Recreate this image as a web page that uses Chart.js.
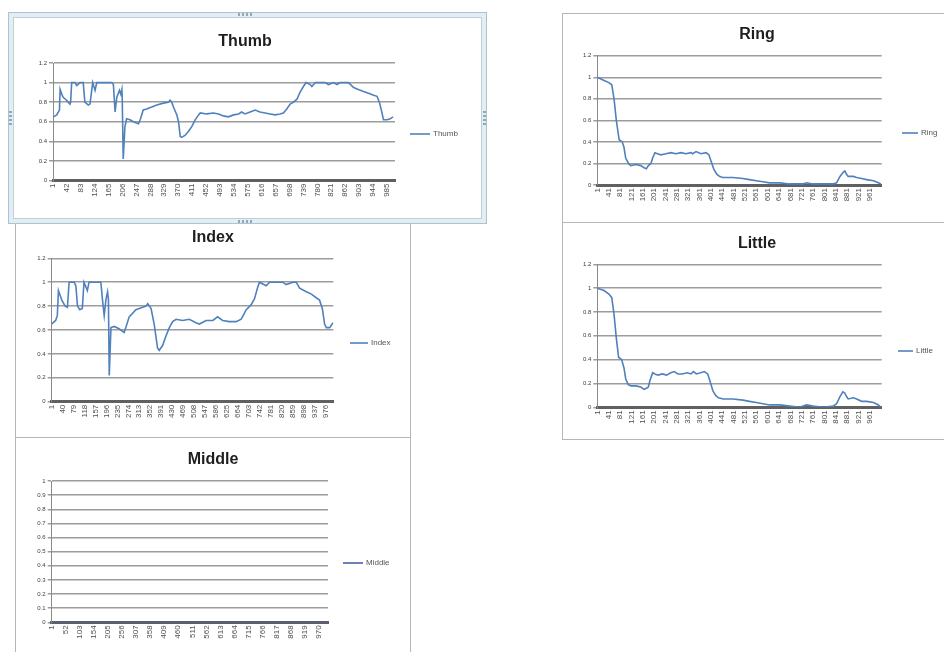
<!DOCTYPE html>
<html>
<head>
<meta charset="utf-8">
<script src="https://cdn.jsdelivr.net/npm/chart.js@4.4.1/dist/chart.umd.min.js"></script>
<style>
  html, body { margin: 0; padding: 0; background: #ffffff; }
  body { width: 944px; height: 652px; position: relative; overflow: hidden; }
  .frame { position: absolute; box-sizing: border-box; background: #ffffff; border: 1px solid #b6b6b6; }
  .sel { border: 1px solid #a9c4d2; box-shadow: inset 0 0 0 4px #e3edf2, inset 0 0 0 5px #bcd0da; }
  canvas { position: absolute; }
  .hh { position: absolute; width: 14px; height: 3px;
        background: repeating-linear-gradient(90deg, #8fa9b6 0 2px, transparent 2px 4px); }
  .hv { position: absolute; width: 3px; height: 14px;
        background: repeating-linear-gradient(180deg, #8fa9b6 0 2px, transparent 2px 4px); }
</style>
</head>
<body>
<div class="frame" style="left:15px;top:222px;width:396px;height:216px"></div>
<canvas id="cIndex"></canvas>
<div class="frame" style="left:15px;top:437px;width:396px;height:224px"></div>
<canvas id="cMiddle"></canvas>
<div class="frame" style="left:562px;top:13px;width:392px;height:210px"></div>
<canvas id="cRing"></canvas>
<div class="frame" style="left:562px;top:222px;width:392px;height:218px"></div>
<canvas id="cLittle"></canvas>
<div class="frame sel" style="left:8px;top:12px;width:479px;height:212px"></div>
<div class="hh" style="left:238px;top:13px"></div>
<div class="hh" style="left:238px;top:220px"></div>
<div class="hv" style="left:9px;top:111px"></div>
<div class="hv" style="left:483px;top:111px"></div>
<canvas id="cThumb"></canvas>

<script>
// ---- Thumb ----
const thumbX = [2,12,17,20,22,27,31,41,51,53,56,66,71,81,90,95,105,110,118,125,130,174,179,184,189,197,201,204,205,208,213,218,228,238,253,258,267,277,292,307,326,341,346,351,356,366,371,376,380,390,400,410,420,430,435,454,474,489,503,518,533,548,557,567,582,597,611,626,641,656,670,680,690,700,710,720,729,739,747,759,764,774,788,803,813,828,838,847,872,887,901,916,931,946,956,963,970,975,985,995,1003];
const thumbY = [0.65,0.67,0.70,0.72,0.93,0.88,0.85,0.82,0.78,0.80,1.00,1.00,0.97,1.00,1.00,0.80,0.77,0.78,1.00,0.92,1.00,1.00,0.98,0.70,0.85,0.92,0.88,0.93,0.85,0.22,0.55,0.63,0.62,0.60,0.58,0.62,0.72,0.73,0.75,0.77,0.79,0.80,0.82,0.80,0.75,0.67,0.60,0.45,0.44,0.46,0.50,0.55,0.62,0.67,0.69,0.68,0.69,0.68,0.66,0.65,0.67,0.68,0.70,0.68,0.70,0.72,0.70,0.69,0.68,0.67,0.68,0.69,0.73,0.78,0.80,0.83,0.90,0.96,1.00,0.98,0.96,1.00,1.00,1.00,0.98,1.00,0.98,1.00,1.00,0.95,0.93,0.91,0.89,0.87,0.86,0.80,0.70,0.62,0.62,0.63,0.65];
const thumbXTicks = [1,42,83,124,165,206,247,288,329,370,411,452,493,534,575,616,657,698,739,780,821,862,903,944,985];
const thumbYTicks = [0,0.2,0.4,0.6,0.8,1,1.2];

// ---- Index ----
const indexX = [1,15,21,25,37,49,57,63,81,87,93,101,110,116,128,134,176,182,188,194,200,203,206,212,224,241,259,265,277,301,325,337,343,355,366,378,384,396,408,420,432,444,467,491,515,527,551,575,592,610,634,658,676,694,711,723,735,741,765,777,824,836,860,872,884,908,926,943,955,965,973,979,991,1003];
const indexY = [0.65,0.68,0.72,0.93,0.85,0.80,0.79,1.00,1.00,0.97,0.80,0.77,0.78,1.00,0.93,1.00,1.00,0.85,0.72,0.85,0.92,0.86,0.22,0.62,0.63,0.61,0.58,0.62,0.71,0.77,0.79,0.80,0.82,0.78,0.65,0.45,0.43,0.47,0.55,0.62,0.67,0.69,0.68,0.69,0.66,0.65,0.68,0.68,0.71,0.68,0.67,0.67,0.69,0.77,0.81,0.86,0.96,1.00,0.97,1.00,1.00,0.98,1.00,1.00,0.95,0.92,0.90,0.87,0.85,0.78,0.65,0.62,0.62,0.66];
const indexXTicks = [1,40,79,118,157,196,235,274,313,352,391,430,469,508,547,586,625,664,703,742,781,820,859,898,937,976];
const indexYTicks = [0,0.2,0.4,0.6,0.8,1,1.2];

// ---- Middle ----
const middleX = [1,101,201,301,401,501,601,701,801,901,1003];
const middleY = [0,0,0,0,0,0,0,0,0,0,0];
const middleXTicks = [1,52,103,154,205,256,307,358,409,460,511,562,613,664,715,766,817,868,919,970];
const middleYTicks = [0,0.1,0.2,0.3,0.4,0.5,0.6,0.7,0.8,0.9,1];

// ---- Ring ----
const ringX = [1,25,42,52,60,68,78,89,95,101,111,119,137,154,166,174,181,190,196,204,213,225,243,260,278,296,313,331,337,349,366,384,394,402,411,422,431,443,478,514,537,561,585,608,644,679,726,738,761,797,832,844,856,868,873,879,885,903,915,932,950,974,991,1000];
const ringY = [1.00,0.97,0.95,0.93,0.80,0.60,0.42,0.40,0.35,0.25,0.20,0.18,0.19,0.18,0.16,0.15,0.18,0.20,0.25,0.30,0.29,0.28,0.29,0.30,0.29,0.30,0.29,0.30,0.29,0.31,0.29,0.30,0.28,0.22,0.15,0.10,0.08,0.07,0.07,0.06,0.05,0.04,0.03,0.02,0.02,0.01,0.01,0.02,0.01,0.01,0.01,0.02,0.08,0.12,0.13,0.10,0.08,0.08,0.07,0.06,0.05,0.04,0.02,0.01];
const ringXTicks = [1,41,81,121,161,201,241,281,321,361,401,441,481,521,561,601,641,681,721,761,801,841,881,921,961];
const ringYTicks = [0,0.2,0.4,0.6,0.8,1,1.2];

// ---- Little ----
const littleX = [1,25,42,52,60,68,76,87,95,101,110,120,137,154,166,174,181,186,196,204,215,230,245,260,272,285,300,318,331,340,350,365,378,390,398,408,418,428,445,480,514,537,561,585,608,644,679,714,738,761,797,832,844,856,866,873,879,885,903,915,932,950,974,991,1000];
const littleY = [1.00,0.98,0.95,0.92,0.78,0.58,0.42,0.40,0.33,0.24,0.19,0.18,0.18,0.17,0.15,0.16,0.17,0.22,0.29,0.28,0.27,0.28,0.27,0.29,0.30,0.28,0.28,0.29,0.28,0.30,0.28,0.29,0.30,0.28,0.22,0.14,0.10,0.08,0.07,0.07,0.06,0.05,0.04,0.03,0.02,0.02,0.01,0.00,0.02,0.01,0.00,0.01,0.03,0.09,0.13,0.12,0.09,0.07,0.08,0.07,0.05,0.05,0.04,0.02,0.00];
const littleXTicks = [1,41,81,121,161,201,241,281,321,361,401,441,481,521,561,601,641,681,721,761,801,841,881,921,961];
const littleYTicks = [0,0.2,0.4,0.6,0.8,1,1.2];

const FONT = '"Liberation Sans", Arial, sans-serif';
const Y_AXIS_W = 30;
const X_AXIS_H = 30;

function buildChart(c) {
  const canvas = document.getElementById(c.id);
  canvas.width = c.frame.w;
  canvas.height = c.frame.h;
  canvas.style.left = c.frame.x + 'px';
  canvas.style.top = c.frame.y + 'px';
  canvas.style.width = c.frame.w + 'px';
  canvas.style.height = c.frame.h + 'px';

  const padding = {
    left: c.plot.l - c.frame.x - Y_AXIS_W,
    top: c.plot.t - c.frame.y,
    right: c.frame.x + c.frame.w - c.plot.r,
    bottom: c.frame.y + c.frame.h - c.plot.b - X_AXIS_H
  };

  // chart title and legend entry, drawn in page positions
  const decor = {
    id: 'decor',
    afterDraw(chart) {
      const ctx = chart.ctx;
      ctx.save();
      ctx.fillStyle = '#1e1e1e';
      ctx.font = 'bold 16px ' + FONT;
      ctx.textAlign = 'center';
      ctx.textBaseline = 'middle';
      ctx.fillText(c.name, c.title.x - c.frame.x, c.title.y - c.frame.y);

      ctx.strokeStyle = c.color;
      ctx.lineWidth = 1.6;
      ctx.beginPath();
      ctx.moveTo(c.legend.x1 - c.frame.x, c.legend.y - c.frame.y);
      ctx.lineTo(c.legend.x2 - c.frame.x, c.legend.y - c.frame.y);
      ctx.stroke();

      ctx.fillStyle = '#555';
      ctx.font = '8px ' + FONT;
      ctx.textAlign = 'left';
      ctx.fillText(c.name, c.legend.x2 + 3 - c.frame.x, c.legend.y - c.frame.y);
      ctx.restore();
    }
  };

  new Chart(canvas, {
    type: 'line',
    data: {
      datasets: [{
        label: c.name,
        data: c.xs.map((x, i) => ({ x: x, y: c.ys[i] })),
        borderColor: c.color,
        borderWidth: 1.6,
        pointRadius: 0,
        tension: 0,
        fill: false
      }]
    },
    options: {
      responsive: false,
      animation: false,
      layout: { padding: padding },
      plugins: { legend: { display: false }, title: { display: false }, tooltip: { enabled: false } },
      scales: {
        x: {
          type: 'linear',
          min: c.xMin, max: c.xMax,
          afterBuildTicks: s => { s.ticks = c.xTicks.map(v => ({ value: v })); },
          afterFit: s => { s.height = X_AXIS_H; },
          grid: { display: false, drawTicks: false },
          border: { display: true, color: '#606060', width: 3 },
          ticks: {
            autoSkip: false, minRotation: 90, maxRotation: 90, padding: 3,
            font: { size: 8, family: FONT }, color: '#505050',
            callback: v => String(v)
          }
        },
        y: {
          min: c.yMin, max: c.yMax,
          afterBuildTicks: s => { s.ticks = c.yTicks.map(v => ({ value: v })); },
          afterFit: s => { s.width = Y_AXIS_W; },
          grid: { color: '#9c9c9c', lineWidth: 1.5, drawTicks: true, tickLength: 4 },
          border: { display: true, color: '#8a8a8a', width: 1 },
          ticks: { padding: 2, font: { size: 6, family: FONT }, color: '#404040', callback: v => String(v) }
        }
      }
    },
    plugins: [decor]
  });
}

buildChart({
  id: 'cIndex', name: 'Index', color: '#4f81bd',
  frame: { x: 15, y: 222, w: 396, h: 216 },
  plot: { l: 51.7, t: 258.3, r: 333.3, b: 401.7 },
  title: { x: 213, y: 238 }, legend: { x1: 350, x2: 368, y: 343 },
  xs: indexX, ys: indexY, xTicks: indexXTicks, yTicks: indexYTicks,
  xMin: 1, xMax: 1004, yMin: 0, yMax: 1.2
});
buildChart({
  id: 'cMiddle', name: 'Middle', color: '#4a5ea8',
  frame: { x: 15, y: 437, w: 396, h: 224 },
  plot: { l: 51.7, t: 481, r: 328, b: 622.3 },
  title: { x: 213, y: 460 }, legend: { x1: 343, x2: 363, y: 563 },
  xs: middleX, ys: middleY, xTicks: middleXTicks, yTicks: middleYTicks,
  xMin: 1, xMax: 1003, yMin: 0, yMax: 1
});
buildChart({
  id: 'cRing', name: 'Ring', color: '#4f81bd',
  frame: { x: 562, y: 13, w: 392, h: 210 },
  plot: { l: 597.3, t: 55.7, r: 881.7, b: 185 },
  title: { x: 757, y: 35 }, legend: { x1: 902, x2: 918, y: 133 },
  xs: ringX, ys: ringY, xTicks: ringXTicks, yTicks: ringYTicks,
  xMin: 1, xMax: 1003, yMin: 0, yMax: 1.2
});
buildChart({
  id: 'cLittle', name: 'Little', color: '#4f81bd',
  frame: { x: 562, y: 222, w: 392, h: 218 },
  plot: { l: 597.3, t: 264.3, r: 881.7, b: 407.3 },
  title: { x: 757, y: 244 }, legend: { x1: 898, x2: 913, y: 351 },
  xs: littleX, ys: littleY, xTicks: littleXTicks, yTicks: littleYTicks,
  xMin: 1, xMax: 1003, yMin: 0, yMax: 1.2
});
buildChart({
  id: 'cThumb', name: 'Thumb', color: '#4f81bd',
  frame: { x: 8, y: 12, w: 479, h: 212 },
  plot: { l: 53, t: 63, r: 395, b: 180.5 },
  title: { x: 245, y: 42 }, legend: { x1: 410, x2: 430, y: 134 },
  xs: thumbX, ys: thumbY, xTicks: thumbXTicks, yTicks: thumbYTicks,
  xMin: 1, xMax: 1009, yMin: 0, yMax: 1.2
});
</script>
</body>
</html>
